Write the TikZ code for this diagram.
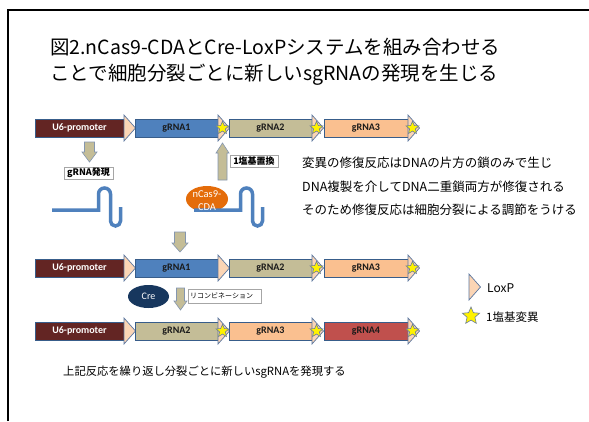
\documentclass[tikz,border=0pt]{standalone}
\usepackage{fontspec}
\setmainfont{Carlito}
\newfontfamily\jp{Noto Sans CJK JP}
\usetikzlibrary{shapes.geometric}
\definecolor{u6}{HTML}{632523}
\definecolor{g1}{HTML}{4F81BD}
\definecolor{g2}{HTML}{C4BD97}
\definecolor{g3}{HTML}{FAC090}
\definecolor{g4}{HTML}{C0504D}
\definecolor{edge}{HTML}{385D8A}
\definecolor{loxfill}{HTML}{FBD5B5}
\definecolor{loxedge}{HTML}{5B77A0}
\definecolor{staredge}{HTML}{6A7C99}
\definecolor{cas}{HTML}{E46C0A}
\definecolor{cre}{HTML}{17375E}
\definecolor{arrfill}{HTML}{C4BD97}
\definecolor{arredge}{HTML}{8496B0}
\definecolor{dnablue}{HTML}{4F81BD}
\definecolor{boxtext}{HTML}{1A1A1A}
\newcommand{\barr}[6]{\draw[barrow] (#1-#5,#2) -- (#1+#5,#2) -- (#1+#5,#4) -- (#1+#6,#4) -- (#1,#3) -- (#1-#6,#4) -- (#1-#5,#4) -- cycle;}
\begin{document}
\begin{tikzpicture}[x=1pt,y=-1pt,
  gbox/.style={draw=edge, line width=0.6pt, minimum height=18, inner sep=0,
    font=\fontsize{10}{12}\selectfont\bfseries, text=boxtext},
  mstar/.style={star, star points=5, star point ratio=2.2, minimum size=13.5, inner sep=0,
    fill=yellow, draw=staredge, line width=0.6pt},
  barrow/.style={fill=arrfill, draw=arredge, line width=0.6pt},
  lbox/.style={draw=gray!70, fill=white, inner sep=0, line width=0.6pt,
    font=\jp\bfseries\fontsize{9}{10}\selectfont},
  dnaline/.style={draw=dnablue, line width=3.5pt},
  jptext/.style={anchor=west, inner sep=0, font=\jp\fontsize{12.5}{15}\selectfont},
  loxp/.pic={\draw[fill=loxfill, draw=loxedge, line width=0.7pt] (0,-13) -- (11.5,0) -- (0,13) -- cycle;},
  dna/.pic={\draw[dnaline] (0,0) -- (46.5,0) -- (46.5,-16) arc[start angle=180,end angle=360,radius=6] -- (58.5,11) arc[start angle=180,end angle=0,radius=5] -- (68.5,-3);}
]
\useasboundingbox (0,0) rectangle (589,421);
\fill[white] (0,0) rectangle (589,421);
\draw[line width=1.5pt] (8,421) -- (8,10) -- (589,10);

% title
\node[anchor=west, inner sep=0, font=\jp\fontsize{19.5}{22}\selectfont] (title1) at (50,47) {図2.nCas9-CDAとCre-LoxPシステムを組み合わせる};
\node[anchor=west, inner sep=0, font=\jp\fontsize{19.5}{22}\selectfont] (title2) at (50,75) {ことで細胞分裂ごとに新しいsgRNAの発現を生じる};

% row 1
\node[gbox, fill=u6, text=white, minimum width=89] (u1) at (79.5,128) {U6-promoter};
\pic at (124,128) {loxp};
\node[gbox, fill=g1, minimum width=83] (a1) at (176.5,128) {gRNA1};
\pic at (218,128) {loxp};
\node[gbox, fill=g2, minimum width=83] (b1) at (270.5,128) {gRNA2};
\pic at (312,128) {loxp};
\node[gbox, fill=g3, minimum width=84] (c1) at (366,128) {gRNA3};
\pic at (408,128) {loxp};
\node[mstar] (s11) at (222.5,128) {};
\node[mstar] (s12) at (316.5,128) {};
\node[mstar] (s13) at (412.5,128) {};

% row 2
\node[gbox, fill=u6, text=white, minimum width=89] (u2) at (79.5,268) {U6-promoter};
\pic at (124,268) {loxp};
\node[gbox, fill=g1, minimum width=83] (a2) at (176.5,268) {gRNA1};
\pic at (218,268) {loxp};
\node[gbox, fill=g2, minimum width=83] (b2) at (270.5,268) {gRNA2};
\pic at (312,268) {loxp};
\node[gbox, fill=g3, minimum width=84] (c2) at (366,268) {gRNA3};
\pic at (408,268) {loxp};
\node[mstar] (s22) at (316.5,268) {};
\node[mstar] (s23) at (412.5,268) {};

% row 3
\node[gbox, fill=u6, text=white, minimum width=89] (u3) at (79.5,331) {U6-promoter};
\pic at (124,331) {loxp};
\node[gbox, fill=g2, minimum width=83] (a3) at (176.5,331) {gRNA2};
\pic at (218,331) {loxp};
\node[gbox, fill=g3, minimum width=83] (b3) at (270.5,331) {gRNA3};
\pic at (312,331) {loxp};
\node[gbox, fill=g4, minimum width=84] (c3) at (366,331) {gRNA4};
\pic at (408,331) {loxp};
\node[mstar] (s31) at (222.5,331) {};
\node[mstar] (s32) at (316.5,331) {};
\node[mstar] (s33) at (412.5,331) {};

% arrows
\barr{89.5}{142}{162}{152}{5}{7.5}
\barr{222.5}{180}{143}{153}{4.5}{6.5}
\barr{180}{232}{252}{243}{5.5}{8}
\barr{180.5}{288}{310}{301}{4}{6.5}

% labels
\node[lbox, minimum width=49, minimum height=12] (gl) at (88.5,173) {gRNA発現};
\node[lbox, minimum width=48, minimum height=12] (sub) at (254,161) {1塩基置換};
\node[lbox, minimum width=73, minimum height=14] (rec) at (224.5,296) {};
\node[anchor=west, inner sep=0, font=\jp\fontsize{7}{8}\selectfont] (rect) at (190,295.5) {リコンビネーション};

% enzymes and DNA
\node[ellipse, fill=cas, minimum width=42, minimum height=26, inner sep=0] (cas) at (207,199) {};
\pic at (52,210) {dna};
\pic at (194,210) {dna};
\node[text=white, align=center, inner sep=0, font=\fontsize{10.5}{13}\selectfont] (castext) at (207,201) {nCas9-\\CDA};
\node[ellipse, fill=cre, minimum width=41, minimum height=23, inner sep=0, text=white, font=\fontsize{10}{12}\selectfont] (cre) at (148.5,296.5) {Cre};

% explanation
\node[jptext] (t1) at (302,163) {変異の修復反応はDNAの片方の鎖のみで生じ};
\node[jptext] (t2) at (302,187) {DNA複製を介してDNA二重鎖両方が修復される};
\node[jptext] (t3) at (302,210) {そのため修復反応は細胞分裂による調節をうける};

% legend
\pic at (469,287) {loxp};
\node[anchor=west, inner sep=0, font=\jp\fontsize{12}{14}\selectfont] (lt) at (487,288) {LoxP};
\node[mstar, minimum size=18] (ls) at (471,316) {};
\node[anchor=west, inner sep=0, font=\jp\fontsize{11.5}{14}\selectfont] (st) at (486,317) {1塩基変異};

% bottom
\node[anchor=west, inner sep=0, font=\jp\fontsize{11.3}{13}\selectfont] (bottom) at (63,372) {上記反応を繰り返し分裂ごとに新しいsgRNAを発現する};
\end{tikzpicture}
\end{document}
